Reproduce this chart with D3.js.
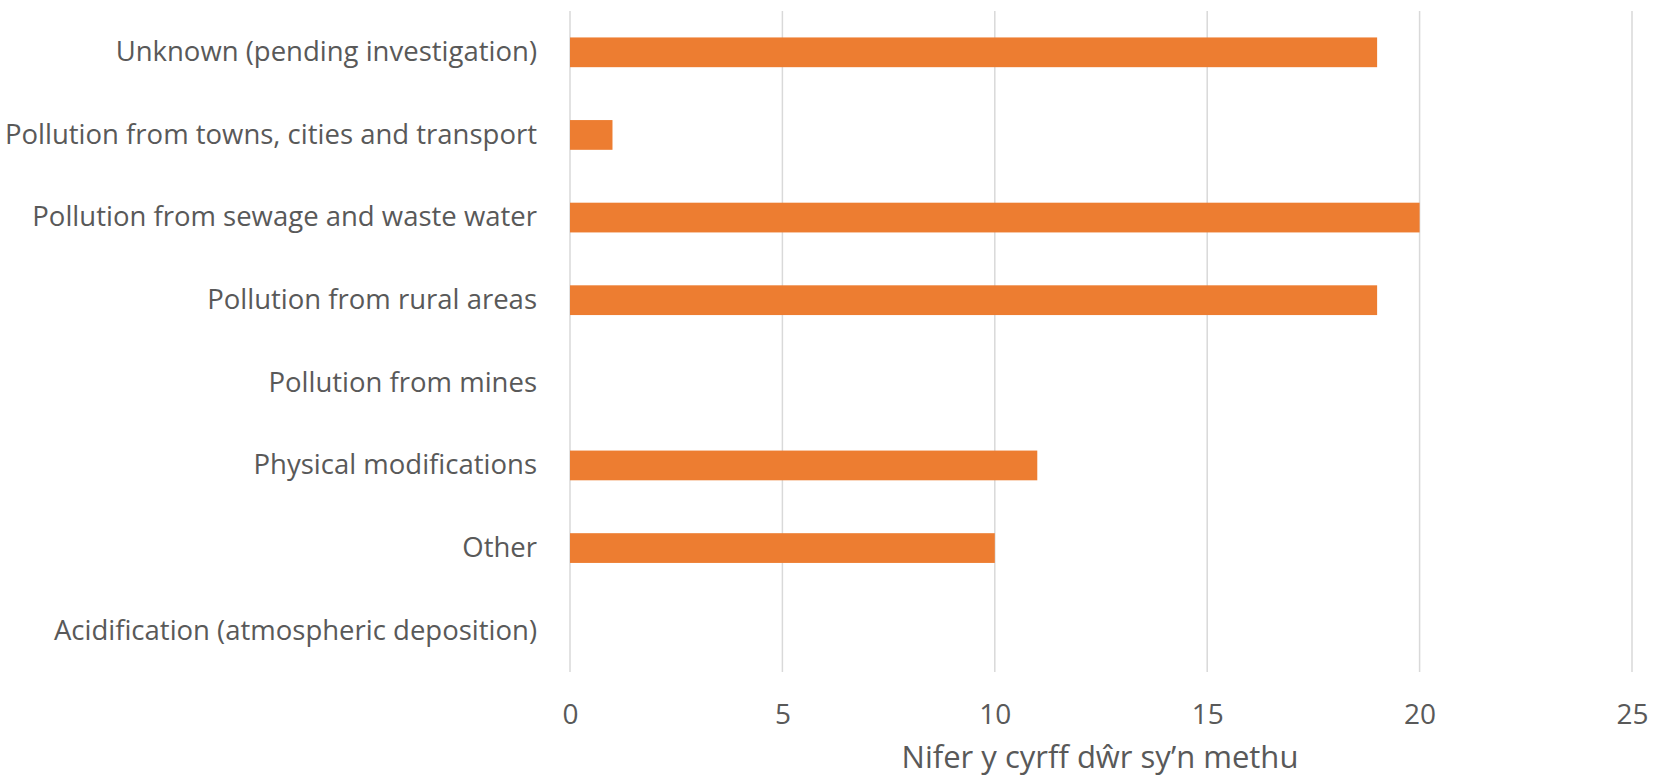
<!DOCTYPE html>
<html>
<head>
<meta charset="utf-8">
<script src="https://cdn.jsdelivr.net/npm/d3@7"></script>
<style>
  body { margin: 0; background: #fff; }
  svg text { font-family: "Open Sans", sans-serif; fill: #595959; }
</style>
</head>
<body>
<svg id="chart" width="1654" height="778"></svg>
<script>
// categories top to bottom
const categories = [
    "Unknown (pending investigation)",
    "Pollution from towns, cities and transport",
    "Pollution from sewage and waste water",
    "Pollution from rural areas",
    "Pollution from mines",
    "Physical modifications",
    "Other",
    "Acidification (atmospheric deposition)"
];
const values = [19, 1, 20, 19, 0, 11, 10, 0];
const xTicks = [0, 5, 10, 15, 20, 25];
const xTitle = "Nifer y cyrff dŵr sy’n methu";

const svg = d3.select("#chart");
const margin = {top: 11, right: 22, bottom: 106, left: 570};
const width = 1654, height = 778;

const x = d3.scaleLinear()
    .domain([0, 25])
    .range([margin.left, width - margin.right]);

const y = d3.scaleBand()
    .domain(categories)
    .range([margin.top, height - margin.bottom])
    .paddingInner(0.64)
    .paddingOuter(0.32);

// gridlines
svg.append("g")
    .selectAll("line")
    .data(xTicks)
    .enter().append("line")
    .attr("x1", d => x(d))
    .attr("x2", d => x(d))
    .attr("y1", margin.top)
    .attr("y2", height - margin.bottom)
    .attr("stroke", "#d9d9d9")
    .attr("stroke-width", 1.5);

// bars
svg.append("g")
    .selectAll("rect")
    .data(categories)
    .enter().append("rect")
    .attr("x", x(0))
    .attr("y", d => y(d))
    .attr("width", (d, i) => x(values[i]) - x(0))
    .attr("height", y.bandwidth())
    .attr("fill", "#ed7d31");

// category labels
const yAxis = svg.append("g")
    .attr("transform", "translate(" + (margin.left - 33) + ",0)")
    .call(d3.axisLeft(y).tickSize(0).tickPadding(0));
yAxis.select(".domain").remove();
yAxis.selectAll("text")
    .attr("font-size", 27.5)
    .attr("font-family", "Open Sans")
    .attr("fill", "#595959");

// value labels
const xAxis = svg.append("g")
    .attr("transform", "translate(0," + (height - margin.bottom) + ")")
    .call(d3.axisBottom(x).tickValues(xTicks).tickSize(0).tickPadding(32));
xAxis.select(".domain").remove();
xAxis.selectAll("text")
    .attr("font-size", 28)
    .attr("font-family", "Open Sans")
    .attr("fill", "#595959");

// axis title
svg.append("text")
    .attr("x", 1100)
    .attr("y", 768)
    .attr("text-anchor", "middle")
    .attr("font-size", 31)
    .text(xTitle);
</script>
</body>
</html>
